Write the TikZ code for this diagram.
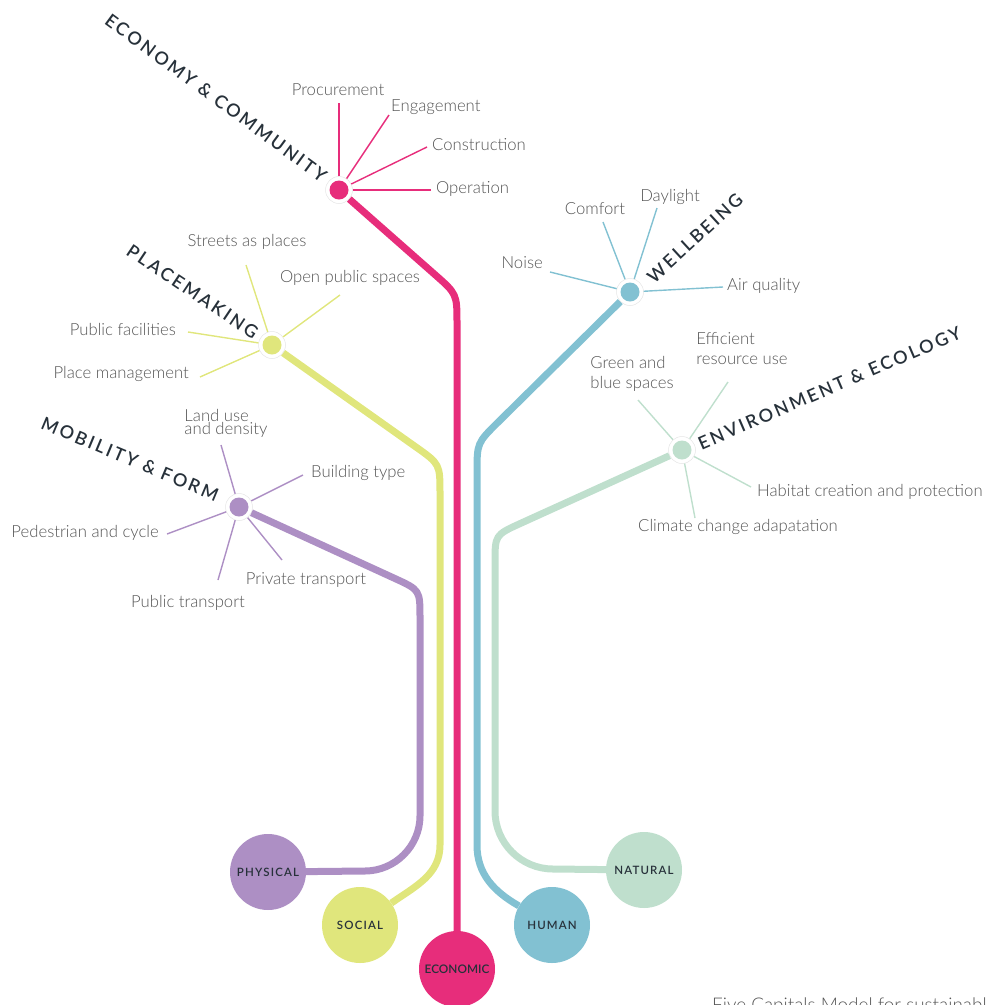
\documentclass[tikz,border=0pt]{standalone}
\usepackage{fontspec}
\usepackage{tikz}
\usetikzlibrary{positioning}
\setmainfont{Lato}
\IfFontExistsTF{Lato Light}{\newfontfamily\labelfont{Lato Light}}{\newfontfamily\labelfont{Lato}}
\IfFontExistsTF{Lato Semibold}{\newfontfamily\headfont[LetterSpace=14]{Lato Semibold}}{\newfontfamily\headfont[LetterSpace=14]{Lato}}
\IfFontExistsTF{Lato Semibold}{\newfontfamily\capfont[LetterSpace=10]{Lato Semibold}}{\newfontfamily\capfont[LetterSpace=10]{Lato}}
\IfFontExistsTF{Lato Semibold}{\newfontfamily\econfont{Lato Semibold}}{\newfontfamily\econfont{Lato}}
\definecolor{ecopink}{HTML}{E72D7B}
\definecolor{soclime}{HTML}{E0E67C}
\definecolor{physlilac}{HTML}{AD8FC4}
\definecolor{humblue}{HTML}{82C1D2}
\definecolor{natgreen}{HTML}{BFDFCD}
\definecolor{labelgray}{HTML}{555555}
\definecolor{headslate}{HTML}{27313A}

\begin{document}
\begin{tikzpicture}[x=1pt, y=1pt,
capnode/.style={circle, fill=#1, minimum size=76pt, inner sep=0pt, text=headslate, font=\capfont\fontsize{11.5}{13}\selectfont},
hubnode/.style={circle, fill=white, draw=black!10, line width=0.5pt, minimum size=27pt, inner sep=0pt,
  path picture={\fill[#1] (path picture bounding box.center) circle (9.5pt);}},
trunk/.style={draw=#1, line width=7pt},
spoke/.style={draw=#1, line width=1.4pt},
item/.style={inner sep=0pt, text=labelgray, font=\labelfont\fontsize{16.7}{13}\selectfont},
heading/.style={inner sep=0pt, text=headslate, font=\headfont\fontsize{18}{20}\selectfont},
]
\useasboundingbox (0,0) rectangle (988,-1005);

%Capitals
\node[capnode=physlilac] (physical) at (268,-872) {PHYSICAL};
\node[capnode=soclime]   (social)   at (360,-925) {SOCIAL};
\node[capnode=ecopink, font=\econfont\fontsize{11.8}{13}\selectfont] (economic) at (457,-969) {ECONOMIC};
\node[capnode=humblue]   (human)    at (552,-925) {HUMAN};
\node[capnode=natgreen]  (natural)  at (644,-870) {NATURAL};

%Hubs
\node[hubnode=ecopink]   (eco)   at (339,-190) {};
\node[hubnode=soclime]   (place) at (272,-345) {};
\node[hubnode=physlilac] (mob)   at (239,-507) {};
\node[hubnode=humblue]   (well)  at (630,-292) {};
\node[hubnode=natgreen]  (env)   at (682,-450) {};

%Headings
\node[heading, rotate=-36.3] (ecohead)   at (216,-98)    {ECONOMY \& COMMUNITY};
\node[heading, rotate=-33.8] (placehead) at (192.5,-291.5) {PLACEMAKING};
\node[heading, rotate=-22.7] (mobhead)   at (130,-459)   {MOBILITY \& FORM};
\node[heading, rotate=42.6]  (wellhead)  at (695,-238)   {WELLBEING};
\node[heading, rotate=23.3]  (envhead)   at (829.5,-388) {ENVIRONMENT \& ECOLOGY};

%Trunks
\draw[trunk=ecopink] (eco) -- (434.5,-274.2) .. controls (457,-294) .. (457,-324) -- (economic);
\draw[trunk=soclime] (place) -- (415.5,-446.7) .. controls (440,-464) .. (440,-494)
  -- (440,-845) to[out=-90, in=35] (social);
\draw[trunk=physlilac] (mob) -- (394.5,-578.3) .. controls (420,-590) .. (420,-618) -- (420,-816)
  .. controls (420,-846) and (395,-871) .. (365,-871) -- (physical);
\draw[trunk=humblue] (well) -- (498.4,-421.9) .. controls (477,-443) .. (477,-473)
  -- (477,-845) to[out=-90, in=150] (human);
\draw[trunk=natgreen] (env) -- (520.5,-523.4) .. controls (495,-535) .. (495,-563) -- (495,-811)
  .. controls (495,-843) and (521,-869) .. (553,-869) -- (natural);

%Economy & community
\coordinate (proc) at (339,-103);
\coordinate (eng)  at (389,-115);
\coordinate (cons) at (427,-147);
\coordinate (oper) at (431,-190);
\draw[spoke=ecopink] (eco) -- (proc);
\draw[spoke=ecopink] (eco) -- (eng);
\draw[spoke=ecopink] (eco) -- (cons);
\draw[spoke=ecopink] (eco) -- (oper);
\node[item]              (procl) at (338,-90)  {Procurement};
\node[item, anchor=west] (engl)  at (391,-107) {Engagement};
\node[item, anchor=west] (consl) at (432,-145) {Construction};
\node[item, anchor=west] (operl) at (436,-189) {Operation};

%Placemaking
\coordinate (streets) at (246,-265);
\coordinate (open)    at (340,-295);
\coordinate (facil)   at (188,-332);
\coordinate (manage)  at (200,-377);
\draw[spoke=soclime] (place) -- (streets);
\draw[spoke=soclime] (place) -- (open);
\draw[spoke=soclime] (place) -- (facil);
\draw[spoke=soclime] (place) -- (manage);
\node[item]              (streetsl) at (247,-242) {Streets as places};
\node[item]              (openl)    at (350,-278) {Open public spaces};
\node[item, anchor=east] (facill)   at (176,-329) {Public facilities};
\node[item, anchor=east] (managel)  at (189,-374) {Place management};

%Mobility & form
\coordinate (land)  at (221,-445);
\coordinate (build) at (303,-475);
\coordinate (ped)   at (167,-534);
\coordinate (pub)   at (218,-580);
\coordinate (priv)  at (282,-560);
\draw[spoke=physlilac] (mob) -- (land);
\draw[spoke=physlilac] (mob) -- (build);
\draw[spoke=physlilac] (mob) -- (ped);
\draw[spoke=physlilac] (mob) -- (pub);
\draw[spoke=physlilac] (mob) -- (priv);
\node[item, align=left]  (landl)  at (226,-423) {Land use\\and density};
\node[item, anchor=west] (buildl) at (311,-473) {Building type};
\node[item, anchor=east] (pedl)   at (159,-533) {Pedestrian and cycle};
\node[item]              (privl)  at (306,-580) {Private transport};
\node[item]              (publ)   at (188,-603) {Public transport};

%Wellbeing
\coordinate (noise)   at (550,-272);
\coordinate (comfort) at (603,-222);
\coordinate (day)     at (657,-208);
\coordinate (air)     at (723,-287);
\draw[spoke=humblue] (well) -- (noise);
\draw[spoke=humblue] (well) -- (comfort);
\draw[spoke=humblue] (well) -- (day);
\draw[spoke=humblue] (well) -- (air);
\node[item, anchor=east] (noisel)   at (543,-263) {Noise};
\node[item]              (comfortl) at (595,-209) {Comfort};
\node[item]              (dayl)     at (670,-197) {Daylight};
\node[item, anchor=west] (airl)     at (727,-286) {Air quality};

%Environment & ecology
\coordinate (green)   at (638,-400);
\coordinate (effic)   at (728,-382);
\coordinate (habitat) at (751,-487);
\coordinate (climate) at (695,-518);
\draw[spoke=natgreen] (env) -- (green);
\draw[spoke=natgreen] (env) -- (effic);
\draw[spoke=natgreen] (env) -- (habitat);
\draw[spoke=natgreen] (env) -- (climate);
\node[item, align=left, font=\labelfont\fontsize{16.7}{20}\selectfont] (greenl) at (632,-374) {Green and\\blue spaces};
\node[item, align=left, font=\labelfont\fontsize{16.7}{20}\selectfont] (efficl) at (742,-349) {Efficient\\resource use};
\node[item, anchor=west] (habitatl) at (757,-492) {Habitat creation and protection};
\node[item]              (climatel) at (738,-527) {Climate change adapatation};

%Caption
\node[item, anchor=base west, font=\labelfont\fontsize{18.9}{20}\selectfont] (caption) at (712,-1011.5) {Five Capitals Model for sustainabl};
\end{tikzpicture}
\end{document}
